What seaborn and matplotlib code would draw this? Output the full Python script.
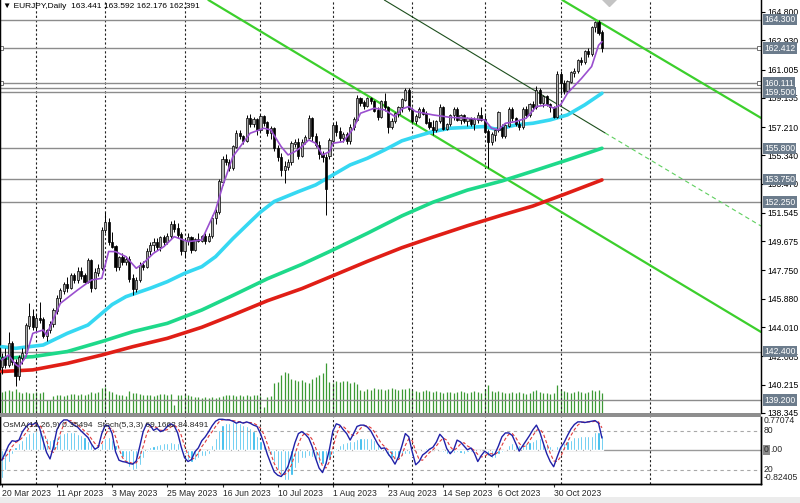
import numpy as np
import pandas as pd
import matplotlib
matplotlib.use('Agg')
import matplotlib.pyplot as plt
import matplotlib.transforms as mtrans
from matplotlib.patches import Rectangle
import seaborn as sns

sns.set_style('white')
plt.rcParams['font.family'] = ['Liberation Sans', 'DejaVu Sans']

# ---------------- data ----------------
first_day = '2023-03-20'

opens = [141.4, 142.0, 141.5, 142.9, 141.7, 140.8, 142.0, 142.3, 144.1, 144.7,
         144.0, 144.6, 144.5, 143.4, 143.8, 144.2, 145.1, 145.9, 146.4, 146.8,
         146.6, 147.4, 147.1, 147.7, 147.4, 147.0, 148.4, 146.6, 147.6, 147.9,
         150.4, 150.9, 149.6, 149.3, 148.0, 148.6, 148.3, 148.5, 147.2, 146.5,
         147.1, 148.1, 148.0, 149.0, 149.4, 149.6, 149.3, 149.9, 149.6, 150.0,
         150.8, 150.5, 150.1, 149.0, 149.7, 149.9, 149.1, 149.8, 149.7, 150.0,
         149.7, 150.0, 151.2, 151.6, 153.6, 155.1, 154.9, 154.5, 155.9, 156.8,
         156.6, 156.3, 157.8, 157.4, 157.7, 157.0, 157.9, 157.5, 156.8, 157.1,
         155.8, 155.2, 154.4, 154.6, 154.9, 156.1, 156.2, 155.3, 156.2, 156.5,
         157.8, 156.6, 156.0, 155.4, 155.2, 155.3, 156.3, 157.3, 156.9, 156.5,
         156.7, 156.3, 157.2, 157.7, 159.1, 158.8, 158.6, 159.1, 158.9, 158.3,
         157.9, 158.9, 158.5, 157.2, 157.6, 158.1, 158.5, 159.0, 159.6, 158.4,
         157.6, 157.9, 158.4, 158.1, 157.5, 157.2, 157.0, 157.6, 158.5, 157.1,
         157.4, 158.0, 158.4, 157.7, 158.0, 157.6, 157.8, 157.4, 157.7, 158.0,
         157.7, 156.9, 156.2, 156.7, 157.0, 157.2, 156.6, 157.3, 158.4, 157.8,
         157.4, 157.2, 158.4, 158.0, 158.7, 158.5, 159.6, 158.8, 159.2, 158.7,
         158.5, 157.9, 160.7, 160.1, 159.6, 160.2, 160.8, 160.9, 161.6, 161.5,
         162.2, 162.0, 163.8, 164.1, 163.441]
highs = [142.3, 142.6, 143.7, 143.1, 141.9, 142.2, 142.6, 144.3, 145.6, 145.2,
         144.9, 145.7, 144.7, 143.9, 144.4, 145.3, 146.1, 146.6, 147.0, 147.3,
         147.6, 147.6, 148.0, 148.0, 147.6, 148.6, 148.5, 147.9, 148.2, 150.6,
         151.6, 151.2, 150.3, 149.4, 148.7, 148.9, 148.7, 148.7, 147.5, 147.3,
         148.3, 148.4, 149.2, 149.6, 149.9, 149.9, 150.0, 150.1, 150.2, 151.0,
         151.1, 150.9, 150.3, 149.9, 150.2, 150.0, 149.9, 150.2, 150.1, 150.2,
         150.2, 151.4, 151.8, 153.8, 155.3, 155.4, 155.1, 156.0, 157.0, 157.0,
         156.7, 158.0, 158.1, 157.9, 157.8, 158.1, 158.0, 157.6, 157.3, 157.2,
         156.0, 155.5, 155.0, 155.1, 156.3, 156.4, 156.5, 156.4, 156.7, 158.0,
         157.9, 156.8, 156.3, 155.6, 155.4, 156.5, 157.5, 157.6, 157.2, 156.9,
         156.9, 157.4, 157.9, 159.3, 159.2, 159.0, 159.2, 159.2, 159.0, 158.5,
         159.0, 159.45, 158.6, 157.8, 158.2, 158.6, 159.1, 159.8, 159.8, 158.5,
         158.1, 158.5, 158.5, 158.3, 157.8, 157.7, 157.7, 158.7, 158.6, 157.5,
         158.1, 158.5, 158.5, 158.1, 158.1, 157.9, 157.9, 157.9, 158.2, 158.5,
         158.0, 157.1, 156.9, 157.1, 158.3, 157.4, 157.4, 158.5, 158.5, 157.9,
         157.7, 158.5, 158.6, 158.8, 158.9, 159.9, 159.8, 159.3, 159.3, 158.8,
         158.6, 160.9, 160.9, 160.3, 160.3, 160.9, 161.1, 161.7, 161.8, 162.3,
         162.4, 163.9, 164.2, 164.3, 163.592]
lows = [140.9, 141.3, 141.4, 141.5, 140.1, 140.5, 141.6, 142.1, 143.9, 143.8,
        143.7, 144.3, 143.3, 143.1, 143.6, 144.0, 144.9, 145.7, 146.2, 146.3,
        146.5, 146.9, 146.9, 147.2, 146.9, 146.9, 146.3, 146.5, 147.4, 147.8,
        150.2, 149.4, 149.2, 147.7, 147.8, 148.1, 148.1, 147.0, 146.1, 146.3,
        147.0, 147.8, 147.9, 148.8, 149.0, 149.1, 149.0, 149.4, 149.5, 149.8,
        150.3, 149.9, 148.8, 148.6, 149.4, 148.9, 149.0, 149.6, 149.6, 149.5,
        149.6, 149.9, 150.8, 151.5, 153.4, 154.7, 154.3, 154.4, 155.8, 156.4,
        156.1, 156.2, 157.2, 157.2, 156.7, 156.9, 157.3, 156.6, 156.4, 155.6,
        155.0, 154.0, 153.5, 154.4, 154.7, 155.9, 155.1, 155.2, 156.1, 156.4,
        156.3, 155.9, 155.1, 154.9, 151.4, 155.1, 156.1, 156.6, 156.3, 156.2,
        156.1, 156.1, 157.0, 157.6, 158.6, 158.4, 158.5, 158.7, 158.2, 157.7,
        157.8, 158.3, 156.8, 157.1, 157.5, 157.9, 158.2, 158.9, 158.3, 157.5,
        157.4, 157.8, 158.0, 157.4, 157.1, 156.7, 156.9, 157.5, 157.0, 157.0,
        157.3, 157.7, 157.6, 157.4, 157.5, 157.3, 157.3, 157.0, 157.5, 157.6,
        156.8, 154.5, 156.0, 156.3, 156.9, 156.5, 156.5, 157.2, 157.6, 157.3,
        157.0, 157.1, 157.8, 157.9, 158.3, 158.4, 158.7, 158.5, 158.6, 158.2,
        157.8, 157.8, 159.3, 159.4, 159.5, 160.1, 160.5, 160.8, 161.3, 161.4,
        161.8, 161.9, 163.5, 163.3, 162.176]
closes = [142.0, 141.5, 142.9, 141.7, 140.8, 142.0, 142.3, 144.1, 144.7, 144.0,
          144.6, 144.5, 143.4, 143.8, 144.2, 145.1, 145.9, 146.4, 146.8, 146.6,
          147.4, 147.1, 147.7, 147.4, 147.0, 148.4, 146.6, 147.6, 147.9, 150.4,
          150.9, 149.6, 149.3, 148.0, 148.6, 148.3, 148.5, 147.2, 146.5, 147.1,
          148.1, 148.0, 149.0, 149.4, 149.6, 149.3, 149.9, 149.6, 150.0, 150.8,
          150.5, 150.1, 149.0, 149.7, 149.9, 149.1, 149.8, 149.7, 150.0, 149.7,
          150.0, 151.2, 151.6, 153.6, 155.1, 154.9, 154.5, 155.9, 156.8, 156.6,
          156.3, 157.8, 157.4, 157.7, 157.0, 157.9, 157.5, 156.8, 157.1, 155.8,
          155.2, 154.4, 154.6, 154.9, 156.1, 156.2, 155.3, 156.2, 156.5, 157.8,
          156.6, 156.0, 155.4, 155.2, 153.1, 156.3, 157.3, 156.9, 156.5, 156.7,
          156.3, 157.2, 157.7, 159.1, 158.8, 158.6, 159.1, 158.9, 158.3, 157.9,
          158.9, 158.5, 157.2, 157.6, 158.1, 158.5, 159.0, 159.6, 158.4, 157.6,
          157.9, 158.4, 158.1, 157.5, 157.2, 157.0, 157.6, 158.5, 157.1, 157.4,
          158.0, 158.4, 157.7, 158.0, 157.6, 157.8, 157.4, 157.7, 158.0, 157.7,
          156.9, 156.2, 156.7, 157.0, 158.2, 156.6, 157.3, 158.4, 157.8, 157.4,
          157.2, 158.4, 158.0, 158.7, 158.5, 159.6, 158.8, 159.2, 158.7, 158.5,
          157.9, 160.7, 160.1, 159.6, 160.2, 160.8, 160.9, 161.6, 161.5, 162.2,
          162.0, 163.8, 164.1, 163.4, 162.391]

tick_volume = [21, 22, 23, 22, 24, 21, 20, 21, 20, 20,
               21, 20, 21, 13, 13, 17, 18, 18, 17, 18,
               19, 19, 18, 19, 18, 19, 21, 20, 21, 25,
               26, 22, 21, 19, 18, 18, 17, 22, 20, 20,
               19, 18, 18, 18, 17, 18, 19, 19, 18, 19,
               8, 18, 18, 19, 18, 17, 16, 16, 15, 16,
               15, 16, 15, 16, 17, 18, 18, 18, 17, 18,
               17, 18, 17, 18, 18, 17, 6, 16, 17, 30,
               31, 38, 41, 40, 34, 33, 32, 33, 31, 30,
               34, 36, 38, 40, 50, 31, 30, 32, 31, 32,
               32, 30, 31, 29, 23, 22, 24, 23, 25, 24,
               24, 23, 24, 25, 24, 23, 24, 24, 25, 23,
               22, 21, 22, 23, 22, 21, 22, 21, 20, 21,
               21, 20, 21, 22, 21, 20, 21, 22, 21, 20,
               24, 28, 22, 21, 22, 21, 20, 20, 21, 20,
               21, 20, 19, 20, 22, 23, 21, 20, 20, 19,
               20, 28, 24, 22, 21, 20, 21, 22, 21, 20,
               21, 23, 22, 23, 20]

# moving averages, read at sample bars
ma_fast_bar = [0, 2, 4, 5, 7, 9, 12, 13, 14, 17, 22, 26, 29, 31, 33, 36, 39, 41, 44, 47,
               50, 54, 58, 62, 64, 67, 72, 76, 78, 81, 83, 85, 87, 89, 91, 93, 95, 96, 99, 102,
               104, 108, 111, 114, 116, 118, 120, 125, 130, 135, 140, 142, 144, 146, 149, 152, 155, 158, 160, 162,
               164, 168, 171, 173, 174]
ma_fast = [141.85, 142.17, 141.55, 141.4, 142.06, 143.6, 143.82, 143.49, 144.04, 145.58,
           146.46, 147.12, 147.23, 149.0, 148.99, 148.66, 147.89, 148.22, 148.88, 149.32,
           149.98, 149.65, 149.76, 151.74, 153.28, 155.26, 156.8, 157.13, 157.02, 155.92,
           155.37, 155.59, 155.92, 156.36, 156.14, 155.37, 155.59, 156.14, 156.25, 157.13,
           158.12, 158.45, 158.34, 157.9, 158.4, 158.56, 158.23, 158.01, 157.85, 157.79,
           157.68, 157.13, 157.02, 157.46, 157.57, 157.79, 158.56, 158.67, 158.45, 158.67,
           159.44, 160.4, 161.2, 162.6, 162.84]
ma50_bar = [0, 4, 12, 19, 25, 29, 32, 36, 43, 48, 53, 58, 62, 67, 72, 75, 79, 86, 91, 96,
            101, 106, 111, 116, 120, 125, 130, 135, 140, 143, 145, 149, 154, 159, 164, 169, 174]
ma50 = [142.72, 142.61, 142.83, 143.6, 144.15, 144.92, 145.5, 146.02, 146.57, 147.01,
        147.56, 148.0, 148.66, 149.85, 150.95, 151.6, 152.3, 152.95, 153.39, 154.05,
        154.71, 155.15, 155.7, 156.3, 156.58, 156.91, 157.13, 157.19, 157.24, 157.08,
        157.13, 157.35, 157.46, 157.68, 158.01, 158.67, 159.44]
ma_slow_bar = [0, 9, 19, 29, 38, 48, 58, 67, 77, 87, 96, 106, 116, 125, 135, 145, 154, 164, 174]
ma144 = [141.95, 142.06, 142.4, 143.06, 143.71, 144.26, 145.14, 146.1, 147.2, 148.15,
         149.1, 150.2, 151.35, 152.25, 153.05, 153.65, 154.3, 155.04, 155.81]
ma200 = [141.08, 141.19, 141.62, 142.17, 142.72, 143.27, 144.0, 144.81, 145.75, 146.55,
         147.4, 148.35, 149.25, 149.95, 150.7, 151.4, 152.0, 152.85, 153.72]

# OsMA(12,26,9) histogram and Stochastic(5,3,3)
osma = [-0.70, -0.50, -0.30, -0.12, 0.05, 0.15, 0.24, 0.33, 0.40, 0.44,
        0.46, 0.43, 0.35, 0.27, 0.23, 0.25, 0.30, 0.37, 0.41, 0.44,
        0.44, 0.42, 0.39, 0.35, 0.30, 0.22, 0.13, 0.05, 0.04, 0.16,
        0.27, 0.30, 0.23, 0.10, -0.05, -0.18, -0.30, -0.42, -0.50, -0.48,
        -0.38, -0.22, -0.05, 0.05, 0.08, 0.11, 0.14, 0.16, 0.17, 0.18,
        0.17, 0.15, 0.06, -0.06, -0.26, -0.30, -0.26, -0.21, -0.17, -0.15,
        -0.12, 0.10, 0.27, 0.48, 0.60, 0.64, 0.66, 0.67, 0.68, 0.66,
        0.61, 0.57, 0.53, 0.46, 0.33, 0.22, 0.11, 0.00, -0.13, -0.30,
        -0.50, -0.68, -0.76, -0.74, -0.62, -0.46, -0.32, -0.22, -0.20, -0.15,
        -0.18, -0.25, -0.32, -0.35, -0.35, -0.25, -0.10, 0.03, 0.10, 0.15,
        0.18, 0.20, 0.22, 0.26, 0.28, 0.29, 0.29, 0.28, 0.24, 0.16,
        0.06, -0.04, -0.15, -0.22, -0.24, -0.20, -0.16, -0.10, -0.12, -0.16,
        -0.10, -0.04, 0.02, 0.04, 0.03, 0.00, -0.04, 0.02, -0.05, -0.10,
        -0.12, -0.08, -0.06, -0.08, -0.10, -0.07, -0.05, -0.04, -0.03, -0.02,
        -0.06, -0.15, -0.22, -0.20, -0.12, -0.06, 0.02, 0.10, 0.15, 0.14,
        0.12, 0.13, 0.16, 0.19, 0.22, 0.25, 0.27, 0.22, 0.15, 0.08,
        0.02, 0.08, 0.12, 0.15, 0.20, 0.24, 0.30, 0.31, 0.32, 0.32,
        0.33, 0.33, 0.43, 0.44, 0.355]
stoch_main = [35, 46, 58, 65, 64, 66, 79, 86, 91, 90,
              93, 84, 65, 47, 37, 56, 82, 92, 97, 97,
              93, 89, 86, 80, 75, 70, 60, 52, 55, 76,
              89, 88, 76, 48, 35, 33, 32, 30, 29, 34,
              56, 79, 91, 89, 81, 84, 79, 81, 87, 91,
              88, 77, 56, 39, 33, 36, 48, 54, 65, 71,
              79, 88, 95, 98, 98, 97, 97, 95, 92, 94,
              92, 94, 92, 89, 87, 76, 61, 44, 30, 17,
              12, 10, 16, 26, 43, 62, 76, 79, 75, 69,
              56, 38, 23, 16, 30, 52, 80, 91, 89, 82,
              76, 66, 76, 87, 89, 89, 86, 80, 70, 60,
              53, 54, 45, 38, 29, 40, 57, 76, 71, 48,
              28, 33, 43, 47, 52, 55, 63, 75, 69, 53,
              45, 51, 66, 63, 57, 51, 54, 46, 33, 42,
              49, 45, 41, 45, 57, 71, 77, 77, 73, 61,
              49, 57, 65, 73, 82, 89, 78, 61, 45, 33,
              25, 40, 54, 62, 73, 83, 90, 94, 94, 93,
              94, 95, 96, 92, 69.17]
stoch_signal = [35, 40, 46, 56, 62, 65, 70, 77, 85, 89,
                91, 89, 81, 65, 50, 47, 58, 77, 90, 95,
                96, 93, 89, 85, 80, 75, 68, 61, 56, 61,
                73, 84, 84, 71, 53, 39, 33, 32, 30, 31,
                40, 56, 75, 86, 87, 85, 81, 81, 82, 86,
                89, 85, 74, 57, 43, 36, 39, 46, 56, 63,
                72, 79, 87, 94, 97, 98, 97, 96, 95, 94,
                93, 93, 93, 92, 89, 84, 75, 60, 45, 30,
                20, 13, 13, 17, 28, 44, 60, 72, 77, 74,
                67, 54, 39, 26, 23, 33, 54, 74, 87, 87,
                82, 75, 73, 76, 84, 88, 88, 85, 79, 70,
                61, 56, 51, 46, 37, 36, 42, 58, 68, 65,
                49, 36, 35, 41, 47, 51, 57, 64, 69, 66,
                56, 50, 54, 60, 62, 57, 54, 50, 44, 40,
                41, 45, 45, 44, 48, 58, 68, 75, 76, 70,
                61, 56, 57, 65, 73, 81, 83, 76, 61, 46,
                34, 33, 40, 52, 63, 73, 82, 89, 93, 94,
                94, 94, 95, 94, 84.85]

# horizontal levels and analyst trend lines (bar index, price)
levels = [164.300, 162.412, 160.111, 159.79, 159.500, 155.800, 153.750, 152.250, 142.400, 139.200]
level_labels = ['164.300', '162.412', '160.111', '', '159.500', '155.800', '153.750', '152.250', '142.400', '139.200']
alert_levels = [162.412, 160.111]
channel_top = [(162.5, 165.59), (220.1, 157.81)]
channel_low = [(59.9, 165.59), (220.1, 143.69)]
mid_line = [(110.9, 165.59), (174.9, 156.82)]
mid_line_ext = [(174.9, 156.82), (220.1, 150.68)]

price_ticks = [164.800, 162.930, 161.005, 159.135, 157.210, 155.340, 153.470, 151.545,
               149.675, 147.750, 145.880, 144.010, 142.085, 140.215, 138.345]
header = '\u25bc EURJPY,Daily  163.441 163.592 162.176 162.391'
osc_header = 'OsMA(12,26,9) 0.35494  Stoch(5,3,3) 69.1662 84.8491'

# ---------------- layout ----------------
W, H = 800, 503
def px_box(x0, y0, x1, y1):
    return [x0 / W, 1 - y1 / H, (x1 - x0) / W, (y1 - y0) / H]

opens, highs, lows, closes = map(np.array, (opens, highs, lows, closes))
n = len(closes)
bars = np.arange(n)
dates = pd.bdate_range(first_day, periods=n)
xlim = (-0.5, 220.1)

fig = plt.figure(figsize=(8, 5.03), dpi=100)
ax = fig.add_axes(px_box(0, 0, 761, 413))
osc = fig.add_axes(px_box(0, 417, 761, 484))

# month grid (future bars are stepped by calendar days, as the terminal does)
grid_x = [i for i in range(1, n) if dates[i].month != dates[i - 1].month]
grid_x.append(n - 1 + (pd.Timestamp('2023-12-01') - dates[-1]).days)

# volume in the bottom of the price window
vol = ax.twinx()
vol.set_zorder(ax.get_zorder() - 1)
ax.patch.set_visible(False)
vol.vlines(bars, 0, tick_volume, color='#3c9a34', lw=0.9)
vol.set_ylim(0, 413)
vol.set_yticks([])

for g in grid_x:
    ax.axvline(g, color='#222222', lw=0.8, ls=(0, (2, 2)), zorder=1)
    osc.axvline(g, color='#222222', lw=0.8, ls=(0, (2, 2)), zorder=1)

for lv in levels:
    ax.axhline(lv, color='#8c8c8c', lw=1.0, zorder=1)
for lv in alert_levels:
    ax.plot([-0.2, 219.4], [lv, lv], ls='none', marker='s', ms=3, mfc='white', mec='#707070', mew=0.7, zorder=2)

# trend channel
ax.axline(*channel_top, color='#3ccf2c', lw=1.6, zorder=2)
ax.axline(*channel_low, color='#3ccf2c', lw=1.6, zorder=2)
ax.plot(*zip(*mid_line), color='#1d4f1d', lw=0.8, zorder=2)
ax.plot(*zip(*mid_line_ext), color='#5fcf5f', lw=0.8, ls=(0, (4, 3)), zorder=2)

# moving averages
sns.lineplot(x=ma_slow_bar, y=ma200, ax=ax, color='#e01e16', lw=2.6, zorder=3)
sns.lineplot(x=ma_slow_bar, y=ma144, ax=ax, color='#1ed98a', lw=2.6, zorder=3)
sns.lineplot(x=ma50_bar, y=ma50, ax=ax, color='#36d8f2', lw=2.6, zorder=3)
sns.lineplot(x=ma_fast_bar, y=ma_fast, ax=ax, color='#9a4fcf', lw=1.2, zorder=5)

# candles
up = closes >= opens
ax.vlines(bars, lows, highs, color='black', lw=0.7, zorder=4)
ax.bar(bars, np.abs(closes - opens) + 0.03, bottom=np.minimum(opens, closes), width=0.62,
       color=np.where(up, '#b0b0b0', '#000000'), edgecolor='black', lw=0.5, zorder=4)

ax.plot(176, 165.72, marker='D', ms=8, color='#c4c4c4', zorder=6)

ax.set_xlim(*xlim)
ax.set_ylim(138.35, 165.59)
ax.set_xticks([])
ax.yaxis.tick_right()
ax.set_yticks(price_ticks)
ax.set_yticklabels([f'{v:.3f}' for v in price_ticks])
ax.tick_params(axis='y', length=3, width=0.8, pad=1.5, labelsize=6.2, colors='black', right=True)
for s in ('top', 'bottom'):
    ax.spines[s].set_visible(False)
    vol.spines[s].set_visible(False)
for s in ('left', 'right'):
    ax.spines[s].set_color('black')
    ax.spines[s].set_linewidth(1)

rlab = mtrans.blended_transform_factory(ax.transAxes, ax.transData)
for lv, lab in zip(levels, level_labels):
    if lab:
        ax.text(1.004, lv, lab, transform=rlab, fontsize=6.2, color='white', va='center', ha='left',
                bbox=dict(boxstyle='square,pad=0.15', fc='#6c7c8c', ec='none'), zorder=10, clip_on=False)

ax.text(0.004, 0.992, header, transform=ax.transAxes, fontsize=6, va='top', ha='left', color='black')

# ---------------- oscillator window ----------------
osc.bar(bars, osma, width=0.62, color='#20b4ea', zorder=2)
osc.axhline(0, color='#9a9a9a', lw=1.0, zorder=1)
osc.set_ylim(-0.846, 0.797)
osc.set_xlim(*xlim)
osc.set_yticks([])

st = osc.twinx()
st.set_ylim(-1.54, 101.5)
st.set_yticks([])
for lvl in (80, 20):
    st.axhline(lvl, color='#a8a8a8', lw=0.8, ls=(0, (3, 3)))
sns.lineplot(x=bars, y=stoch_signal, ax=st, color='#e03a3a', lw=0.8, linestyle=(0, (3, 2)))
sns.lineplot(x=bars, y=stoch_main, ax=st, color='#2020a8', lw=1.0)
st.set_xlim(*xlim)

for a in (osc, st):
    a.spines['top'].set_visible(False)
    for s in ('left', 'right', 'bottom'):
        a.spines[s].set_color('black')
        a.spines[s].set_linewidth(1)

label_bars = list(range(0, n, 16))
osc.set_xticks(label_bars)
osc.set_xticklabels([f'{dates[i].day} {dates[i]:%b %Y}' for i in label_bars], ha='left')
osc.tick_params(axis='x', length=2, width=0.8, pad=1.5, labelsize=6.2, bottom=True)

olab = mtrans.blended_transform_factory(st.transAxes, st.transData)
for val, txt in ((95.4, '0.77074'), (80, '80'), (20, '20'), (7.7, '-0.82405')):
    st.text(1.004, val, txt, transform=olab, fontsize=6.2, va='center', ha='left', clip_on=False)
st.text(1.004, 50.8, '0', transform=olab, fontsize=6.2, va='center', ha='left', clip_on=False,
        bbox=dict(boxstyle='square,pad=0.1', fc='#8a8a8a', ec='none'))
st.text(1.0115, 50.8, '.00', transform=olab, fontsize=6.2, va='center', ha='left', clip_on=False)
st.text(0.004, 0.93, osc_header, transform=st.transAxes, fontsize=6, va='top', ha='left')

# window separator and bottom strip
fig.add_artist(Rectangle((0, 1 - 417 / H), 761 / W, 4 / H, transform=fig.transFigure, color='#8e8e8e', lw=0))
fig.add_artist(Rectangle((0, 0), 1, 6 / H, transform=fig.transFigure, color='#ececec', lw=0))

fig.savefig('out.png', dpi=100)
